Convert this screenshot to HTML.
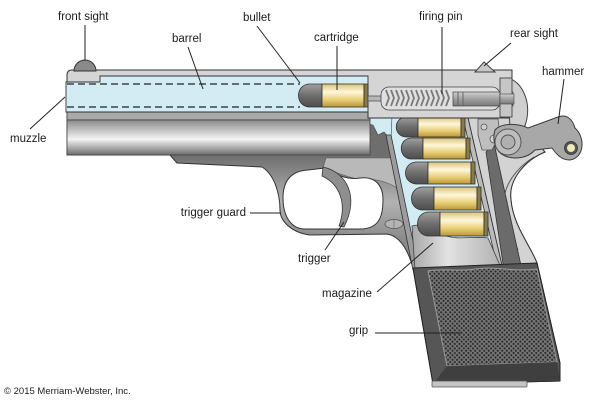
<!DOCTYPE html>
<html><head><meta charset="utf-8">
<style>
html,body{margin:0;padding:0;background:#fff;}
svg{display:block;}
text{font-family:"Liberation Sans",Arial,sans-serif;fill:#1c1c1c;font-size:11.5px;}
.cp{font-size:9.5px;}
.ld{stroke:#222;stroke-width:1;fill:none;}
</style></head><body>
<svg width="600" height="400" viewBox="0 0 600 400" xmlns="http://www.w3.org/2000/svg">
<defs>
<linearGradient id="dust" x1="0" y1="0" x2="0" y2="1">
 <stop offset="0" stop-color="#8a8a8a"/>
 <stop offset="0.55" stop-color="#f4f4f4"/>
 <stop offset="1" stop-color="#6c6c6c"/>
</linearGradient>
<linearGradient id="frame" gradientUnits="userSpaceOnUse" x1="0" y1="155" x2="0" y2="240">
 <stop offset="0" stop-color="#6e6e6e"/>
 <stop offset="0.55" stop-color="#b2b2b2"/>
 <stop offset="1" stop-color="#8a8a8a"/>
</linearGradient>
<linearGradient id="gold" x1="0" y1="0" x2="0" y2="1">
 <stop offset="0" stop-color="#d8c47c"/>
 <stop offset="0.35" stop-color="#fff7da"/>
 <stop offset="0.7" stop-color="#e6cc72"/>
 <stop offset="1" stop-color="#b8963a"/>
</linearGradient>
<linearGradient id="lead" x1="0" y1="0" x2="0" y2="1">
 <stop offset="0" stop-color="#a0a0a0"/>
 <stop offset="0.5" stop-color="#6e6e6e"/>
 <stop offset="1" stop-color="#4c4c4c"/>
</linearGradient>
<linearGradient id="rod" x1="0" y1="0" x2="0" y2="1">
 <stop offset="0" stop-color="#d0d0d0"/>
 <stop offset="0.5" stop-color="#a0a0a0"/>
 <stop offset="1" stop-color="#7a7a7a"/>
</linearGradient>
<linearGradient id="mag" x1="0" y1="0" x2="1" y2="0">
 <stop offset="0" stop-color="#a8a8a8"/>
 <stop offset="0.4" stop-color="#e2e2e2"/>
 <stop offset="1" stop-color="#b0b0b0"/>
</linearGradient>
<pattern id="dots" width="3.2" height="3.2" patternUnits="userSpaceOnUse" patternTransform="rotate(45)">
 <rect width="3.2" height="3.2" fill="#767676"/>
 <circle cx="1.6" cy="1.6" r="1.05" fill="#262626"/>
</pattern>
</defs>

<!-- frame silhouette -->
<path d="M67,112 L520,112 C527,118 527,125 522,130 L545,152 C525,160 508,180 511,200 C513,225 530,245 537,263 L560,363 L560,381 L433,384 L413,268 C408,250 400,236 387,234 L310,235 C293,233 280,222 280,210 C280,195 275,175 262,167 L177,163 L170,155 L67,155 Z" fill="url(#frame)" stroke="#333" stroke-width="1"/>
<!-- light trigger bar area -->
<path d="M323,168 L326,158 L395,158 L397,188 C388,182 375,178 362,180 C350,178 338,173 323,168 Z" fill="#b9b9b9" stroke="#555" stroke-width="0.6"/>
<!-- trigger guard hole -->
<path d="M283,198 C283,180 292,171 308,170 L325,168 C338,176 348,180 360,178 C375,176 383,185 383,200 C383,218 378,228 362,229 L305,229 C291,229 283,216 283,198 Z" fill="#fff" stroke="#333" stroke-width="1"/>
<!-- trigger -->
<path d="M323,167 C346,172 360,196 344,227 L339,226 C347,204 340,184 322,176 Z" fill="#8e8e8e" stroke="#333" stroke-width="0.8"/>
<!-- pin -->
<ellipse cx="394" cy="224" rx="9" ry="4.5" fill="#b4b4b4" stroke="#555" stroke-width="0.8"/>
<line x1="394" y1="220" x2="394" y2="228" stroke="#777" stroke-width="0.8"/>

<!-- grip frame right portion -->
<path d="M468,118 L520,118 L524,128 L545,152 C525,160 508,180 511,200 C513,225 530,245 537,263 L538,270 L503,270 Z" fill="#d3d3d3" stroke="#333" stroke-width="1"/>
<path d="M534,157 C516,168 503,186 504,204 C505,222 512,236 518,250" fill="none" stroke="#555" stroke-width="1"/>
<path d="M486,152 L494,143 L522,270 L504,270 Z" fill="#6b6b6b" stroke="#333" stroke-width="0.8"/>

<!-- magazine channel -->
<path d="M383,118 L468,118 L502,270 L414,270 Z" fill="#d3ecf3"/>
<path d="M368,112 L392,116 L391,140 L384,132 L378,135 L373,125 L368,124 Z" fill="#d3ecf3" stroke="#444" stroke-width="0.6"/>
<path d="M386,135 L391,135 L419,270 L413,270 Z" fill="#9c9c9c" stroke="#333" stroke-width="0.8"/>
<path d="M463,118 L468,118 L503,270 L498,270 Z" fill="#bbbbbb" stroke="#333" stroke-width="0.8"/>
<!-- magazine body -->
<path d="M412,226 C422,222 432,232 446,236 C460,240 472,236 488,238 L502,270 L415,270 Z" fill="url(#mag)" stroke="#444" stroke-width="0.8"/>

<!-- magazine cartridges -->
<g stroke="#333" stroke-width="0.8">
 <path d="M418,117 L406,117 C393,118 393,136 406,137 L418,137 Z" fill="url(#lead)"/>
 <rect x="418" y="117" width="43" height="20" fill="url(#gold)"/>
 <rect x="461" y="117" width="4" height="20" fill="#8a7a45"/>

 <path d="M423,138 L411,138 C398,139 398,158 411,159 L423,159 Z" fill="url(#lead)"/>
 <rect x="423" y="138" width="43" height="21" fill="url(#gold)"/>
 <rect x="466" y="138" width="4" height="21" fill="#8a7a45"/>

 <path d="M428,162 L416,162 C402,163 402,183 416,184 L428,184 Z" fill="url(#lead)"/>
 <rect x="428" y="162" width="43" height="22" fill="url(#gold)"/>
 <rect x="471" y="162" width="4" height="22" fill="#8a7a45"/>

 <path d="M434,187 L422,187 C408,188 408,209 422,210 L434,210 Z" fill="url(#lead)"/>
 <rect x="434" y="187" width="43" height="23" fill="url(#gold)"/>
 <rect x="477" y="187" width="4" height="23" fill="#8a7a45"/>

 <path d="M440,212 L428,212 C414,213 414,235 428,236 L440,236 Z" fill="url(#lead)"/>
 <rect x="440" y="212" width="44" height="24" fill="url(#gold)"/>
 <rect x="484" y="212" width="4" height="24" fill="#8a7a45"/>
</g>

<!-- grip -->
<path d="M413,268 L537,263 L560,363 L560,381 L433,384 Z" fill="#565656" stroke="#222" stroke-width="1"/>
<path d="M428,271 C445,268 460,272 475,269 C495,266 515,272 537,269 L557,362 L447,366 Z" fill="url(#dots)" stroke="#9a9a9a" stroke-width="1"/>
<path d="M447,366 L557,362 L560,381 L433,384 Z" fill="#3f3f3f"/>
<rect x="432" y="381" width="95" height="6" rx="1" fill="#c4c4c4" stroke="#555" stroke-width="0.8"/>

<!-- dust cover -->
<rect x="67" y="112" width="303" height="8" fill="#a9a9a9" stroke="#444" stroke-width="0.8"/>
<rect x="67" y="120" width="303" height="35" fill="url(#dust)" stroke="#444" stroke-width="0.8"/>

<!-- slide -->
<path d="M67,75 Q67,70 72,70 L512,70 L512,118 L368,118 L368,112 L67,112 Z" fill="#d5d5d5" stroke="#333" stroke-width="1"/>
<path d="M508,78 C522,82 530,100 527,118 C526,124 524,128 522,130 L510,130 Z" fill="#cfcfcf" stroke="#444" stroke-width="1"/>
<path d="M66,82 L100,82 L100,76 L368,76 L368,112 L66,112 Z" fill="#d3ecf3" stroke="#333" stroke-width="0.9"/>
<line x1="67" y1="84" x2="300" y2="84" stroke="#222" stroke-width="1.2" stroke-dasharray="7,4"/>
<line x1="67" y1="107" x2="300" y2="107" stroke="#222" stroke-width="1.2" stroke-dasharray="7,4"/>

<!-- chamber cartridge -->
<g stroke="#333" stroke-width="0.8">
 <path d="M322,84 L309,84 C295,85 295,106 309,107 L322,107 Z" fill="url(#lead)"/>
 <rect x="322" y="84" width="42" height="23" fill="url(#gold)"/>
 <rect x="364" y="84" width="4" height="23" fill="#8a7a45"/>
</g>

<!-- firing pin -->
<rect x="368" y="96" width="16" height="5" fill="#b8b8b8" stroke="#444" stroke-width="0.7"/>
<rect x="381" y="87" width="119" height="23" rx="8" fill="#e0e0e0" stroke="#444" stroke-width="0.8"/>
<g stroke="#7a7a7a" stroke-width="1.8" fill="none">
 <path d="M386,90 L389,98 L386,106 M391,90 L394,98 L391,106 M396,90 L399,98 L396,106 M401,90 L404,98 L401,106 M406,90 L409,98 L406,106 M411,90 L414,98 L411,106 M416,90 L419,98 L416,106 M421,90 L424,98 L421,106 M426,90 L429,98 L426,106 M431,90 L434,98 L431,106 M436,90 L439,98 L436,106 M441,90 L444,98 L441,106 M446,90 L449,98 L446,106"/>
</g>
<rect x="453" y="92" width="60" height="14" fill="url(#rod)" stroke="#444" stroke-width="0.7"/>
<line x1="458" y1="92" x2="458" y2="106" stroke="#666"/>
<line x1="463" y1="92" x2="463" y2="106" stroke="#666"/>
<rect x="500" y="78" width="12" height="39" fill="#c6c6c6" stroke="#444" stroke-width="0.9"/>
<rect x="500" y="94" width="14" height="10" fill="url(#rod)" stroke="#444" stroke-width="0.6"/>

<!-- sear -->
<path d="M478,119 L498,119 L500,135 L492,150 L482,150 L478,135 Z" fill="#bebebe" stroke="#555" stroke-width="0.8"/>
<circle cx="484" cy="127" r="3" fill="#cfcfcf" stroke="#555" stroke-width="0.8"/>
<circle cx="494" cy="139" r="4" fill="#d6d6d6" stroke="#555" stroke-width="0.8"/>

<!-- hammer -->
<path d="M495,130 C500,124 515,122 528,128 L558,117 C566,114 572,118 575,128 C586,138 584,158 570,160 C560,160 555,152 552,148 L535,150 C528,158 515,160 505,156 C495,152 492,140 495,130 Z" fill="#a8a8a8" stroke="#3a3a3a" stroke-width="1"/>
<circle cx="508" cy="142" r="13" fill="#bdbdbd" stroke="#555" stroke-width="1"/>
<circle cx="508" cy="142" r="7" fill="#b0b0b0" stroke="#555" stroke-width="1"/>
<circle cx="571" cy="148" r="6.5" fill="#555" stroke="#333" stroke-width="0.8"/>
<circle cx="571" cy="148" r="4" fill="#f0eab8"/>

<!-- sights -->
<path d="M74,71 A11,11 0 0 1 96,71 Z" fill="#8a8a8a" stroke="#333" stroke-width="1"/>
<path d="M475,72 L484,62 L495,72 Z" fill="#c8c8c8" stroke="#444" stroke-width="1"/>

<!-- leaders -->
<line class="ld" x1="85" y1="25" x2="85" y2="60" stroke-width="1.4"/>
<line class="ld" x1="188" y1="47" x2="203" y2="89"/>
<line class="ld" x1="257" y1="26" x2="300" y2="83"/>
<line class="ld" x1="30" y1="129" x2="65" y2="97"/>
<line class="ld" x1="337" y1="46" x2="337" y2="90"/>
<line class="ld" x1="442" y1="27" x2="442" y2="94"/>
<line class="ld" x1="511" y1="43" x2="484" y2="66"/>
<line class="ld" x1="564" y1="79" x2="558" y2="124"/>
<line class="ld" x1="250" y1="213" x2="281" y2="213"/>
<line class="ld" x1="325" y1="250" x2="344" y2="222"/>
<line class="ld" x1="377" y1="292" x2="433" y2="243"/>
<line class="ld" x1="375" y1="333" x2="461" y2="333"/>

<!-- labels -->
<text x="58" y="20">front sight</text>
<text x="172" y="42">barrel</text>
<text x="243" y="21">bullet</text>
<text x="314" y="41">cartridge</text>
<text x="419" y="20">firing pin</text>
<text x="510" y="37">rear sight</text>
<text x="542" y="75">hammer</text>
<text x="10" y="142">muzzle</text>
<text x="246" y="216" text-anchor="end">trigger guard</text>
<text x="298" y="262">trigger</text>
<text x="322" y="297">magazine</text>
<text x="349" y="334">grip</text>
<text class="cp" x="4" y="394">© 2015 Merriam-Webster, Inc.</text>
</svg>
</body></html>
